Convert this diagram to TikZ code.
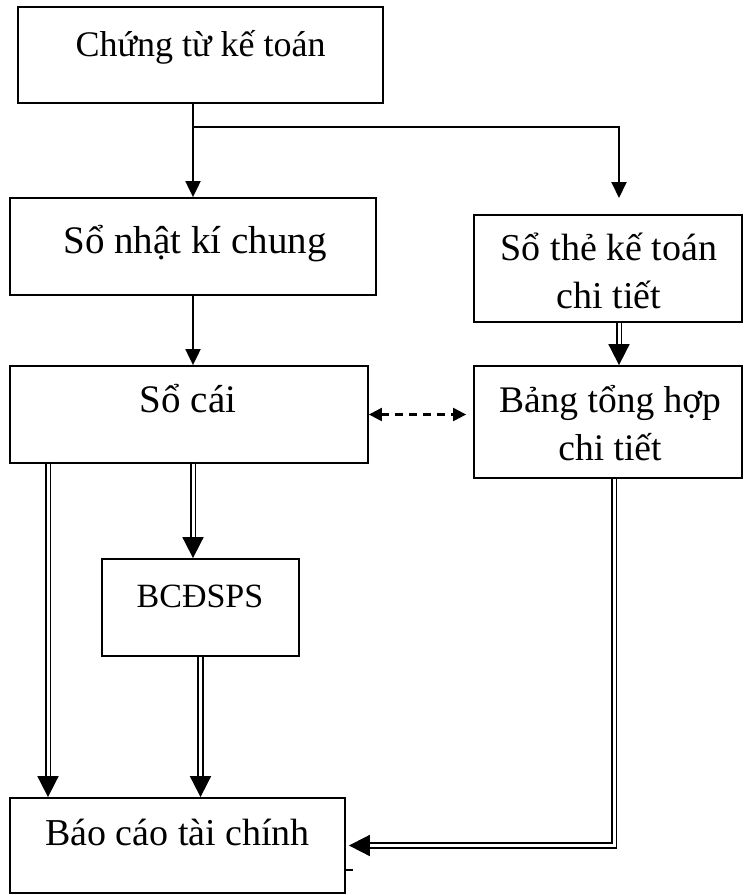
\documentclass[tikz,border=0pt]{standalone}
\usepackage{fontspec}
\setmainfont{Liberation Serif}
\usetikzlibrary{arrows.meta}

\tikzset{
  box/.style={draw, rectangle, line width=1.8pt, inner sep=0pt},
  txt/.style={font=\fontsize{#1}{48}\selectfont, inner sep=0pt, anchor=base, align=center},
  txt/.default=36,
  arr/.style={line width=2pt, -{Triangle[width=15pt,length=16pt]}},
  dblarr/.style={double, double distance=3pt, line width=1.8pt, -{Triangle[width=21pt,length=21pt]}},
  dasharr/.style={line width=2.2pt, dash pattern=on 8pt off 6pt,
    {Triangle[width=13pt,length=13pt]}-{Triangle[width=13pt,length=13pt]}}
}

\begin{document}
\begin{tikzpicture}[x=1pt, y=-1pt]
  \useasboundingbox (0,0) rectangle (744,895);

  % boxes
  \node[box, minimum width=365pt, minimum height=96pt] (ctkt) at (200.5,55) {};
  \node[box, minimum width=366pt, minimum height=97pt] (snkc) at (193,246.5) {};
  \node[box, minimum width=268pt, minimum height=107pt] (sothe) at (608,268.5) {};
  \node[box, minimum width=358pt, minimum height=97pt] (socai) at (189,414.5) {};
  \node[box, minimum width=268pt, minimum height=112pt] (bang) at (608,422) {};
  \node[box, minimum width=197pt, minimum height=97pt] (bcdsps) at (200.5,607.5) {};
  \node[box, minimum width=335pt, minimum height=95pt] (bctc) at (177.5,845.5) {};

  % texts
  \node[txt] (ctkt-t) at (200.5,56) {Chứng từ kế toán};
  \node[txt=39] (snkc-t) at (195,253) {Sổ nhật kí chung};
  \node[txt=38] (sothe-t) at (609,308) {Sổ thẻ kế toán\\chi tiết};
  \node[txt=39] (socai-t) at (188,412) {Sổ cái};
  \node[txt=37.5] (bang-t) at (610,460) {Bảng tổng hợp\\chi tiết};
  \node[txt=34] (bcdsps-t) at (200,607) {BCĐSPS};
  \node[txt=38] (bctc-t) at (177.5,845) {Báo cáo tài chính};

  \coordinate (br) at (619,127);
  \coordinate (brend) at (619,198);
  \coordinate (cl) at (48,0);

  % single arrows
  \draw[arr] (snkc.north |- ctkt.south) -- (snkc.north);
  \draw[arr] (snkc.north |- br) -- (br) -- (brend);
  \draw[arr] (snkc.south) -- (snkc.south |- socai.north);

  % double arrows
  \draw[dblarr] (sothe.south -| br) -- (bang.north -| br);
  \draw[dblarr] (socai.south -| cl) -- (bctc.north -| cl);
  \draw[dblarr] (socai.south -| snkc.south) -- (bcdsps.north -| snkc.south);
  \draw[dblarr] (bcdsps.south) -- (bcdsps.south |- bctc.north);
  \draw[dblarr] ([xshift=6pt]bang.south) |- ([xshift=3pt]bctc.east);

  % dashed link
  \draw[dasharr] (socai.east) -- ([xshift=-7pt]bang.west |- socai.east);

  \draw[line width=1.5pt] (bctc.east |- 0,870) -- ++(7,0);
\end{tikzpicture}
\end{document}
